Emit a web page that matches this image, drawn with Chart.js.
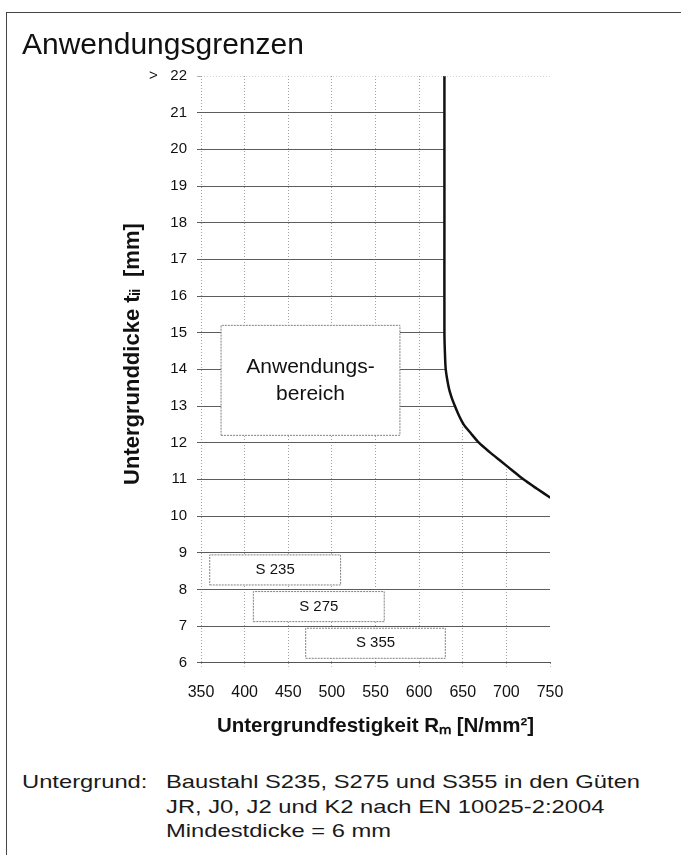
<!DOCTYPE html>
<html>
<head>
<meta charset="utf-8">
<script src="https://cdn.jsdelivr.net/npm/chart.js@4.4.1/dist/chart.umd.min.js"></script>
<style>
html,body{margin:0;padding:0;background:#fff;width:681px;height:855px;overflow:hidden;}
#frame{position:absolute;left:6px;top:12px;right:0;bottom:0;border-top:1px solid #444;border-left:1px solid #444;}
#c{position:absolute;left:0;top:0;}
.foot{position:absolute;top:770px;font-family:'Liberation Sans',Arial,sans-serif;font-size:19px;line-height:24.5px;color:#1a1a1a;transform:scaleX(1.25);transform-origin:0 0;white-space:nowrap;}
</style>
</head>
<body>
<div id="frame"></div>
<canvas id="c" width="681" height="760"></canvas>
<div class="foot" style="left:22px">Untergrund:</div>
<div class="foot" style="left:166px">Baustahl S235, S275 und S355 in den Güten<br>JR, J0, J2 und K2 nach EN 10025-2:2004<br>Mindestdicke = 6 mm</div>
<script>
// ---- data ----
const chartTitle = 'Anwendungsgrenzen';
const xAxisTitle = 'Untergrundfestigkeit Rₘ [N/mm²]';
const yAxisTitle = '     Untergrunddicke tᵢᵢ  [mm]';
const xTicks = [350, 400, 450, 500, 550, 600, 650, 700, 750];
const yTicks = [6, 7, 8, 9, 10, 11, 12, 13, 14, 15, 16, 17, 18, 19, 20, 21, 22];
const yTickLabels = ['6','7','8','9','10','11','12','13','14','15','16','17','18','19','20','21','>   22'];

// limit curve (Rm -> thickness)
const curveX = [629, 629, 629, 629.5, 630.5, 634, 637, 641, 645.5, 651, 659.5, 668.5, 680.5, 693.5, 706.5, 719.5, 734.7, 750.5];
const curveY = [22, 18, 15, 14.5, 14, 13.5, 13.25, 13, 12.75, 12.5, 12.25, 12, 11.75, 11.5, 11.25, 11, 10.75, 10.5];

// annotation boxes
const boxLabels = [['Anwendungs-', 'bereich'], ['S 235'], ['S 275'], ['S 355']];
const boxXMin = [373, 360, 410, 470];
const boxXMax = [578, 510, 560, 630];
const boxYMin = [12.2, 8.12, 7.12, 6.12];
const boxYMax = [15.2, 8.94, 7.94, 6.94];

// ---- styles ----
const FONT = "'Liberation Sans', Arial, sans-serif";
const boxTextStyle = [{size: 21, lh: 27}, {size: 15, lh: 18}, {size: 15, lh: 18}, {size: 15, lh: 18}];

const boxDatasets = boxLabels.map((_, i) => ({
  data: [
    {x: boxXMin[i], y: boxYMin[i]}, {x: boxXMax[i], y: boxYMin[i]},
    {x: boxXMax[i], y: boxYMax[i]}, {x: boxXMin[i], y: boxYMax[i]},
    {x: boxXMin[i], y: boxYMin[i]}
  ],
  borderColor: '#808080',
  borderWidth: 1,
  borderDash: [2, 1],
  backgroundColor: '#ffffff',
  fill: 'shape',
  tension: 0,
  pointRadius: 0,
  order: 3
}));

const boxText = {
  id: 'boxText',
  afterDatasetsDraw(chart) {
    const {ctx, scales: {x, y}} = chart;
    ctx.save();
    ctx.fillStyle = '#111';
    ctx.textAlign = 'center';
    ctx.textBaseline = 'middle';
    boxLabels.forEach((lines, i) => {
      const st = boxTextStyle[i];
      const cx = x.getPixelForValue((boxXMin[i] + boxXMax[i]) / 2);
      const cy = y.getPixelForValue((boxYMin[i] + boxYMax[i]) / 2);
      ctx.font = st.size + 'px ' + FONT;
      lines.forEach((t, j) => {
        ctx.fillText(t, cx, cy + (j - (lines.length - 1) / 2) * st.lh);
      });
    });
    ctx.restore();
  }
};

Chart.defaults.font.family = FONT;
Chart.defaults.color = '#111';

new Chart(document.getElementById('c'), {
  type: 'line',
  data: {
    datasets: [
      {
        data: [{x: xTicks[0], y: yTicks[yTicks.length - 1]}, {x: xTicks[xTicks.length - 1], y: yTicks[yTicks.length - 1]}],
        borderColor: '#a8a8a8',
        borderWidth: 1,
        borderDash: [1, 2],
        pointRadius: 0,
        fill: false,
        order: 0
      },
      {
        data: curveX.map((v, i) => ({x: v, y: curveY[i]})),
        borderColor: '#111',
        borderWidth: 2.5,
        backgroundColor: '#ffffff',
        fill: 'end',
        tension: 0.25,
        pointRadius: 0,
        order: 1
      },
      ...boxDatasets
    ]
  },
  options: {
    responsive: false,
    animation: false,
    devicePixelRatio: 1,
    layout: {padding: {left: 22, right: 131, top: 0, bottom: 21}},
    plugins: {
      legend: {display: false},
      tooltip: {enabled: false},
      title: {
        display: true,
        text: chartTitle,
        align: 'start',
        color: '#111',
        font: {size: 30, weight: 'normal', family: FONT},
        padding: {top: 27.5, bottom: 12.5}
      }
    },
    scales: {
      x: {
        type: 'linear',
        min: xTicks[0],
        max: xTicks[xTicks.length - 1],
        afterBuildTicks: s => { s.ticks = xTicks.map(v => ({value: v})); },
        afterFit: s => { s.height = 76.3; },
        ticks: {
          autoSkip: false, maxRotation: 0, padding: 16,
          font: {size: 16}, color: '#111',
          callback: v => String(v)
        },
        grid: {
          color: c => (c.tick && c.tick.value === 750) ? 'rgba(0,0,0,0)' : '#a0a0a0',
          tickColor: '#a0a0a0',
          lineWidth: 1,
          tickLength: 4,
          tickBorderDash: [1, 2]
        },
        border: {display: true, color: '#555', width: 1, dash: [1, 2]},
        title: {
          display: true,
          text: xAxisTitle,
          color: '#111',
          font: {size: 20.5, weight: 'bold'},
          padding: {top: 0, bottom: 0}
        }
      },
      y: {
        type: 'linear',
        min: yTicks[0],
        max: yTicks[yTicks.length - 1],
        afterBuildTicks: s => { s.ticks = yTicks.map(v => ({value: v})); },
        afterFit: s => { s.width = 179; },
        ticks: {
          autoSkip: false, padding: 10,
          font: {size: 15}, color: '#111',
          callback: v => yTickLabels[yTicks.indexOf(v)]
        },
        grid: {
          color: c => (c.tick && c.tick.value === 22) ? 'rgba(0,0,0,0)' : '#5c5c5c',
          tickColor: c => (c.tick && c.tick.value === 22) ? '#b0b0b0' : '#5c5c5c',
          lineWidth: 1,
          tickLength: 4
        },
        border: {display: false},
        title: {
          display: true,
          text: yAxisTitle,
          color: '#111',
          font: {size: 22, weight: 'bold'},
          padding: {top: 98, bottom: 0}
        }
      }
    }
  },
  plugins: [boxText]
});
</script>
</body>
</html>
